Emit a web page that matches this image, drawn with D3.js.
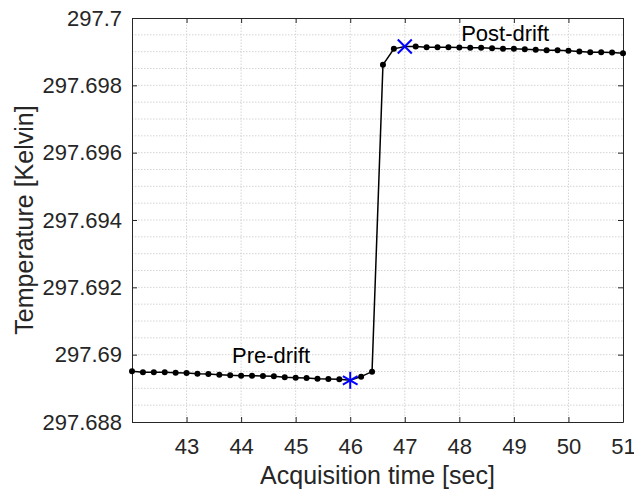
<!DOCTYPE html>
<html lang="en">
<head>
    <meta charset="UTF-8">
    <title>Temperature drift</title>
    <script src="https://d3js.org/d3.v7.min.js"></script>
    <style>
        body {
            margin: 0;
            background: #fff;
            overflow: hidden;
        }
        text {
            font-family: "Liberation Sans", Arial, sans-serif;
            fill: #262626;
        }
        .grid line {
            stroke: #d4d4d4;
            stroke-width: 1px;
            stroke-dasharray: 1.5,1.5;
        }
    </style>
</head>
<body>
    <script>
        // Sample times (sec) and temperatures (K)
        const times = [
            42.0, 42.2, 42.4, 42.6, 42.8, 43.0, 43.2, 43.4, 43.6, 43.8,
            44.0, 44.2, 44.4, 44.6, 44.8, 45.0, 45.2, 45.4, 45.6, 45.8,
            46.0, 46.2, 46.4, 46.6, 46.8, 47.0, 47.2, 47.4, 47.6, 47.8,
            48.0, 48.2, 48.4, 48.6, 48.8, 49.0, 49.2, 49.4, 49.6, 49.8,
            50.0, 50.2, 50.4, 50.6, 50.8, 51.0
        ];
        const temps = [
            297.689506, 297.689476, 297.689476, 297.689476, 297.689466, 297.689456, 297.689436, 297.689426, 297.689407, 297.689387,
            297.689377, 297.689377, 297.689367, 297.689357, 297.689327, 297.689317, 297.689308, 297.689288, 297.689278, 297.689268,
            297.689238, 297.689347, 297.689496, 297.698609, 297.699085, 297.699154, 297.699154, 297.699134, 297.699134, 297.699134,
            297.699124, 297.699114, 297.699114, 297.699105, 297.699085, 297.699085, 297.699075, 297.699055, 297.699045, 297.699045,
            297.699025, 297.699005, 297.698986, 297.698986, 297.698976, 297.698956
        ];
        // pre-drift and post-drift reference samples
        const preIndex = 20;
        const postIndex = 25;

        const xTicks = [43, 44, 45, 46, 47, 48, 49, 50, 51];
        const yTicks = [297.688, 297.69, 297.692, 297.694, 297.696, 297.698, 297.7];

        const width = 634, height = 491;
        const margin = {left: 132, right: 11, top: 18, bottom: 69};

        const svg = d3.select("body").append("svg")
            .attr("width", width)
            .attr("height", height);

        const x = d3.scaleLinear().domain([42, 51]).range([margin.left, width - margin.right]);
        const y = d3.scaleLinear().domain([297.688, 297.7]).range([height - margin.bottom, margin.top]);

        const data = times.map((t, i) => ({t: t, v: temps[i]}));

        // grid: major x, major+minor y
        const grid = svg.append("g").attr("class", "grid");
        grid.selectAll(".gx").data(xTicks.filter(d => d < 51))
            .enter().append("line")
            .attr("x1", d => x(d)).attr("x2", d => x(d))
            .attr("y1", y.range()[0]).attr("y2", y.range()[1]);
        const yMinor = d3.range(0, 25).map(i => 297.688 + i * 0.0005);
        grid.selectAll(".gy").data(yMinor.slice(1, -1))
            .enter().append("line")
            .attr("x1", x.range()[0]).attr("x2", x.range()[1])
            .attr("y1", d => y(d)).attr("y2", d => y(d));

        // axes with inward ticks
        const tickFmt = d => d3.format("")(+d.toFixed(3));
        svg.append("g")
            .attr("transform", `translate(0,${y.range()[0]})`)
            .call(d3.axisBottom(x).tickValues(xTicks).tickSizeInner(-5).tickSizeOuter(0).tickPadding(16).tickFormat(d3.format("d")))
            .call(g => g.selectAll("text").style("font-size", "22px"));
        svg.append("g")
            .attr("transform", `translate(${x.range()[0]},0)`)
            .call(d3.axisLeft(y).tickValues(yTicks).tickSizeInner(-5).tickSizeOuter(0).tickPadding(10).tickFormat(tickFmt))
            .call(g => g.selectAll("text").style("font-size", "22px"));
        svg.append("g")
            .attr("transform", `translate(0,${y.range()[1]})`)
            .call(d3.axisTop(x).tickValues(xTicks).tickSizeInner(-5).tickSizeOuter(0).tickFormat(""));
        svg.append("g")
            .attr("transform", `translate(${x.range()[1]},0)`)
            .call(d3.axisRight(y).tickValues(yTicks).tickSizeInner(-5).tickSizeOuter(0).tickFormat(""));
        svg.selectAll(".domain, .tick line").attr("stroke", "#262626");

        // data line and markers
        const line = d3.line().x(d => x(d.t)).y(d => y(d.v));
        svg.append("path")
            .datum(data)
            .attr("fill", "none")
            .attr("stroke", "#000")
            .attr("stroke-width", 1.5)
            .attr("d", line);
        svg.append("g").selectAll("circle")
            .data(data.filter((d, i) => i !== preIndex && i !== postIndex))
            .enter().append("circle")
            .attr("cx", d => x(d.t))
            .attr("cy", d => y(d.v))
            .attr("r", 3)
            .attr("fill", "#000");

        // asterisk at pre-drift point
        const pre = data[preIndex];
        const star = svg.append("g")
            .attr("transform", `translate(${x(pre.t)},${y(pre.v)})`)
            .attr("stroke", "#0000ff").attr("stroke-width", 2);
        [0, 60, 120].forEach(a => {
            const r = a * Math.PI / 180;
            star.append("line")
                .attr("x1", -8.5 * Math.sin(r)).attr("y1", -8.5 * Math.cos(r))
                .attr("x2", 8.5 * Math.sin(r)).attr("y2", 8.5 * Math.cos(r));
        });
        // cross at post-drift point
        const post = data[postIndex];
        const cross = svg.append("g")
            .attr("transform", `translate(${x(post.t)},${y(post.v)})`)
            .attr("stroke", "#0000ff").attr("stroke-width", 2);
        cross.append("line").attr("x1", -7).attr("y1", -7).attr("x2", 7).attr("y2", 7);
        cross.append("line").attr("x1", -7).attr("y1", 7).attr("x2", 7).attr("y2", -7);

        // annotations
        svg.append("text")
            .attr("x", x(44.55)).attr("y", y(297.68975))
            .attr("text-anchor", "middle")
            .style("font-size", "22px").style("fill", "#000")
            .text("Pre-drift");
        svg.append("text")
            .attr("x", x(48.84)).attr("y", y(297.69932))
            .attr("text-anchor", "middle")
            .style("font-size", "22px").style("fill", "#000")
            .text("Post-drift");

        // axis titles
        svg.append("text")
            .attr("x", (x.range()[0] + x.range()[1]) / 2)
            .attr("y", 484)
            .attr("text-anchor", "middle")
            .style("font-size", "25px")
            .text("Acquisition time [sec]");
        svg.append("text")
            .attr("transform", `translate(33,${(y.range()[0] + y.range()[1]) / 2}) rotate(-90)`)
            .attr("text-anchor", "middle")
            .style("font-size", "25px")
            .text("Temperature [Kelvin]");
    </script>
</body>
</html>
